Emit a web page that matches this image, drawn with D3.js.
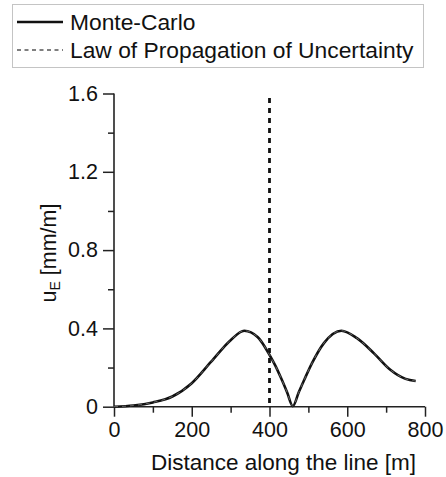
<!DOCTYPE html>
<html>
<head>
<meta charset="utf-8">
<script src="https://cdn.jsdelivr.net/npm/d3@7"></script>
<style>
  html, body { margin: 0; padding: 0; background: #fff; }
  svg { display: block; font-family: "Liberation Sans", Arial, sans-serif; }
</style>
</head>
<body>
<svg id="chart" width="446" height="477"></svg>
<script>
// Distance along the line [m] and standard uncertainty u_E [mm/m]
const distance = [0, 50, 100, 150, 200, 250, 300, 335, 370, 400, 415, 430, 445, 460, 475, 490, 510, 540, 585, 625, 670, 710, 750, 776];
const monteCarlo = [0, 0.006, 0.022, 0.052, 0.12, 0.23, 0.34, 0.388, 0.355, 0.265, 0.21, 0.145, 0.075, 0.003, 0.072, 0.14, 0.225, 0.325, 0.388, 0.35, 0.27, 0.19, 0.142, 0.131];
const lawOfPropagation = [0, 0.006, 0.022, 0.052, 0.12, 0.23, 0.34, 0.388, 0.355, 0.265, 0.21, 0.145, 0.075, 0.003, 0.072, 0.14, 0.225, 0.325, 0.388, 0.35, 0.27, 0.19, 0.142, 0.131];
const markerDistance = 400;
const xTicks = [0, 200, 400, 600, 800];
const xMinorTicks = [100, 300, 500, 700];
const yTicks = [0, 0.4, 0.8, 1.2, 1.6];
const yMinorTicks = [0.2, 0.6, 1.0, 1.4];
const seriesNames = ["Monte-Carlo", "Law of Propagation of Uncertainty"];

const svg = d3.select("#chart");
const x = d3.scaleLinear().domain([0, 800]).range([114, 425]);
const y = d3.scaleLinear().domain([0, 1.6]).range([406.7, 93.5]);

const fmt = v => v === 0 ? "0" : d3.format(".1f")(v);

// x axis (major + minor ticks)
const gx = svg.append("g").attr("transform", `translate(0,${y(0)})`);
gx.call(d3.axisBottom(x).tickValues(xTicks).tickSize(10).tickPadding(5).tickFormat(d3.format("d")));
gx.append("g").call(d3.axisBottom(x).tickValues(xMinorTicks).tickSize(6).tickFormat(""))
  .select(".domain").remove();

// y axis (major + minor ticks)
const gy = svg.append("g").attr("transform", `translate(${x(0)},0)`);
gy.call(d3.axisLeft(y).tickValues(yTicks).tickSize(11).tickPadding(5).tickFormat(fmt));
gy.append("g").call(d3.axisLeft(y).tickValues(yMinorTicks).tickSize(6).tickFormat(""))
  .select(".domain").remove();

svg.selectAll(".domain").attr("stroke", "#222").attr("stroke-width", 1.6);
svg.selectAll(".tick line").attr("stroke", "#222").attr("stroke-width", 1.5);
svg.selectAll(".tick text").attr("font-size", 21.5).attr("fill", "#111")
  .attr("font-family", "'Liberation Sans', Arial, sans-serif");
// plain axis lines without end caps
gx.select(".domain").attr("d", `M${x(0)},0H${x(800)}`);
gy.select(".domain").attr("d", `M0,${y(0)}V${y(1.6)}`);

// axis titles
svg.append("text")
  .attr("x", (x(0) + x(800)) / 2 + 14).attr("y", 470)
  .attr("text-anchor", "middle").attr("font-size", 22.5).attr("fill", "#111")
  .text("Distance along the line [m]");

const yl = svg.append("text")
  .attr("transform", "translate(55.5,253) rotate(-90)")
  .attr("text-anchor", "middle").attr("font-size", 21.5).attr("fill", "#111");
yl.append("tspan").text("u");
yl.append("tspan").attr("font-size", 14).attr("dy", 4).text("E");
yl.append("tspan").attr("dy", -4).text(" [mm/m]");

// vertical marker at the reference distance
svg.append("line")
  .attr("x1", x(markerDistance)).attr("x2", x(markerDistance))
  .attr("y1", 98).attr("y2", y(0))
  .attr("stroke", "#111").attr("stroke-width", 2.8).attr("stroke-dasharray", "5,5");

// curves
const pts = (vals) => distance.map((d, i) => [d, vals[i]]);
const line = d3.line().x(d => x(d[0])).y(d => y(d[1])).curve(d3.curveMonotoneX);

svg.append("path").datum(pts(monteCarlo))
  .attr("d", line).attr("fill", "none")
  .attr("stroke", "#111").attr("stroke-width", 2.6);
svg.append("path").datum(pts(lawOfPropagation))
  .attr("d", line).attr("fill", "none")
  .attr("stroke", "#666").attr("stroke-width", 1).attr("stroke-dasharray", "4,4");

// legend
const lg = svg.append("g");
lg.append("rect").attr("x", 12.5).attr("y", 4.5).attr("width", 411).attr("height", 63)
  .attr("fill", "#fff").attr("stroke", "#c4c4c4").attr("stroke-width", 1);
lg.append("line").attr("x1", 17).attr("x2", 63).attr("y1", 22).attr("y2", 22)
  .attr("stroke", "#111").attr("stroke-width", 2.6);
lg.append("line").attr("x1", 17).attr("x2", 63).attr("y1", 50).attr("y2", 50)
  .attr("stroke", "#555").attr("stroke-width", 1.3).attr("stroke-dasharray", "4,3.5");
lg.selectAll("text.lab").data(seriesNames).join("text")
  .attr("class", "lab")
  .attr("x", 70).attr("y", (d, i) => 29.5 + i * 28)
  .attr("font-size", 22.8).attr("fill", "#111")
  .text(d => d);
</script>
</body>
</html>
